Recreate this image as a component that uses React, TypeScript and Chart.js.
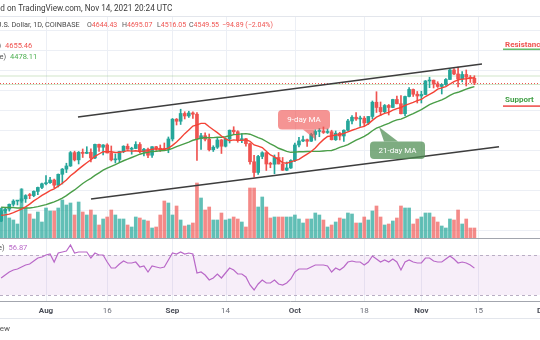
import React, { useEffect, useRef } from "react";
import { Chart, registerables } from "chart.js";
Chart.register(...registerables);

// ---- Data (ETH/USD daily, Coinbase, Jul 21 – Nov 14 2021; day index 0 = Jul 21) ----
const priorCloses = [2113, 2150, 2226, 2321, 2198, 2323, 2316, 2117, 2147, 2139, 2140, 2032, 1941, 1995, 1911, 1880, 1898, 1895, 1820, 1787];

const opens = [
  1787, 1994, 2026, 2124, 2188, 2190, 2233, 2299, 2298, 2382,
  2461, 2534, 2556, 2609, 2506, 2724, 2827, 2890, 3157, 3012,
  3164, 3142, 3165, 3050, 3322, 3265, 3310, 3150, 3012, 3020,
  3180, 3285, 3225, 3240, 3320, 3175, 3225, 3105, 3275, 3240,
  3225, 3220, 3430, 3825, 3785, 3940, 3890, 3950, 3925, 3435,
  3495, 3425, 3215, 3265, 3410, 3285, 3430, 3605, 3575, 3400,
  3435, 3335, 2975, 2760, 3080, 3155, 2930, 2925, 3060, 2930,
  2805, 2850, 3000, 3310, 3390, 3415, 3385, 3520, 3580, 3590,
  3560, 3575, 3415, 3545, 3490, 3605, 3790, 3865, 3830, 3845,
  3750, 3880, 4165, 4060, 3975, 4100, 4060, 4220, 4135, 3935,
  4280, 4420, 4325, 4290, 4320, 4590, 4605, 4530, 4480, 4520,
  4620, 4810, 4730, 4630, 4720, 4665, 4644.43,
];
const highs = [
  2044, 2043, 2130, 2215, 2194, 2435, 2316, 2340, 2393, 2468,
  2549, 2700, 2665, 2630, 2730, 2840, 2945, 3180, 3186, 3180,
  3230, 3275, 3235, 3330, 3330, 3320, 3335, 3290, 3130, 3185,
  3295, 3330, 3265, 3375, 3360, 3245, 3250, 3280, 3285, 3310,
  3350, 3470, 3840, 3840, 4025, 3975, 3985, 3975, 3960, 3545,
  3555, 3530, 3295, 3445, 3420, 3455, 3610, 3675, 3595, 3540,
  3445, 3350, 3105, 3105, 3175, 3160, 2965, 3110, 3160, 3060,
  2970, 3015, 3350, 3465, 3490, 3430, 3545, 3615, 3640, 3670,
  3630, 3605, 3590, 3565, 3615, 3825, 3900, 3960, 3890, 3880,
  3880, 4190, 4375, 4170, 4120, 4120, 4225, 4290, 4300, 4290,
  4460, 4430, 4380, 4385, 4600, 4665, 4610, 4575, 4530, 4640,
  4825, 4840, 4870, 4780, 4810, 4700, 4695.07,
];
const lows = [
  1776, 1954, 1987, 2086, 2110, 2160, 2161, 2236, 2275, 2315,
  2438, 2511, 2540, 2450, 2470, 2530, 2758, 2880, 2990, 2930,
  3060, 3135, 2970, 3035, 3180, 3110, 3150, 2990, 2950, 2965,
  3155, 3225, 3125, 3235, 3150, 3090, 3055, 3060, 3200, 3180,
  3205, 3155, 3390, 3710, 3720, 3830, 3860, 3840, 3000, 3220,
  3390, 3190, 3180, 3240, 3140, 3270, 3350, 3515, 3365, 3355,
  3285, 2925, 2665, 2720, 3035, 2800, 2855, 2735, 2930, 2800,
  2795, 2840, 2975, 3270, 3375, 3280, 3380, 3405, 3475, 3540,
  3540, 3410, 3400, 3410, 3380, 3590, 3730, 3800, 3680, 3690,
  3720, 3830, 3960, 3895, 3955, 3910, 4055, 4130, 3930, 3890,
  4270, 4280, 4150, 4150, 4315, 4455, 4450, 4460, 4330, 4500,
  4620, 4715, 4470, 4570, 4490, 4560, 4516.05,
];
const closes = [
  1994, 2026, 2124, 2188, 2190, 2233, 2299, 2298, 2382, 2461,
  2534, 2556, 2609, 2506, 2724, 2827, 2890, 3157, 3012, 3164,
  3142, 3165, 3050, 3322, 3265, 3310, 3150, 3012, 3020, 3180,
  3285, 3225, 3240, 3320, 3175, 3225, 3105, 3275, 3240, 3225,
  3220, 3430, 3825, 3785, 3940, 3890, 3950, 3925, 3435, 3495,
  3425, 3215, 3265, 3410, 3285, 3430, 3605, 3575, 3400, 3435,
  3335, 2975, 2760, 3080, 3155, 2930, 2925, 3060, 2930, 2805,
  2850, 3000, 3310, 3390, 3415, 3385, 3520, 3580, 3590, 3560,
  3575, 3415, 3545, 3490, 3605, 3790, 3865, 3830, 3845, 3750,
  3880, 4165, 4060, 3975, 4100, 4060, 4220, 4135, 3935, 4280,
  4420, 4325, 4290, 4320, 4590, 4605, 4530, 4480, 4520, 4620,
  4810, 4730, 4630, 4720, 4665, 4645, 4549.55,
];
// volume, thousand ETH
const volumes = [
  600, 560, 400, 360, 280, 980, 600, 480, 380, 520,
  320, 600, 540, 540, 600, 760, 660, 700, 460, 720,
  520, 460, 560, 460, 260, 380, 420, 560, 460, 380,
  380, 260, 220, 420, 400, 360, 340, 200, 220, 460,
  740, 700, 460, 640, 360, 240, 260, 300, 1100, 800,
  560, 620, 360, 360, 500, 360, 380, 420, 380, 320,
  220, 1000, 1000, 620, 820, 620, 400, 420, 420, 420,
  420, 420, 460, 380, 300, 380, 380, 500, 460, 360,
  220, 260, 320, 400, 380, 500, 480, 300, 300, 420,
  360, 540, 640, 420, 260, 280, 340, 400, 640, 600,
  600, 280, 380, 420, 500, 500, 420, 320, 240, 200,
  380, 360, 560, 280, 380, 200, 200,
];
const rsiValues = [
  47, 50, 53, 55, 56, 58, 60, 61, 64, 67,
  68, 70, 71, 63, 72, 73, 74, 80, 72, 73,
  73, 73, 67, 72, 70, 70, 63, 57, 57, 61,
  64, 62, 62, 63, 58, 59, 53, 59, 58, 57,
  58, 65, 72, 71, 73, 71, 72, 71, 52, 53,
  50, 45, 47, 51, 47, 52, 57, 55, 51, 51,
  48, 40, 35, 41, 45, 42, 42, 45, 41, 40,
  42, 46, 53, 56, 56, 56, 58, 60, 60, 60,
  59, 53, 57, 55, 58, 63, 64, 63, 63, 60,
  63, 69, 66, 63, 65, 63, 66, 63, 55, 63,
  65, 63, 62, 62, 67, 67, 64, 63, 63, 66,
  69, 66, 62, 63, 62, 60, 56.87,
];
const tickDays = [11, 26, 42, 55, 72, 89, 103, 117, 133];
const tickLabels = ["Aug", "16", "Sep", "14", "Oct", "18", "Nov", "15", "Dec"];
const tickIsMonth = [true, false, true, false, true, false, true, false, true];
const upperTrend = [{ x: 18.84, y: 3869.55 }, { x: 117.86, y: 4929.55 }];
const lowerTrend = [{ x: 22.03, y: 2229.55 }, { x: 122.03, y: 3275.55 }];
const levelLines = [4689.55, 4519.55];
const rsiBand = [70, 30];
const priceGrid = [1600, 2000, 2400, 2800, 3200, 3600, 4000, 4400, 4800, 5200, 5600];
const headerOHLC = [["O", "4644.43"], ["H", "4695.07"], ["L", "4516.05"], ["C", "4549.55"]];
const headerChange = "\u221294.89 (\u22122.04%)";
const ma9Legend = "4655.46";
const ma21Legend = "4478.11";
const rsiLegend = "56.87";

const GREEN = "#26a69a";
const RED = "#ef5350";
const FONT = "Roboto";

function sma(period: number) {
  const all = priorCloses.concat(closes);
  const off = priorCloses.length;
  return closes.map((_, i) => {
    let s = 0;
    for (let k = 0; k < period; k++) s += all[off + i - k];
    return { x: i, y: s / period };
  });
}

function roundRect(ctx: CanvasRenderingContext2D, x: number, y: number, w: number, h: number, r: number) {
  ctx.beginPath();
  ctx.moveTo(x + r, y);
  ctx.arcTo(x + w, y, x + w, y + h, r);
  ctx.arcTo(x + w, y + h, x, y + h, r);
  ctx.arcTo(x, y + h, x, y, r);
  ctx.arcTo(x, y, x + w, y, r);
  ctx.closePath();
}

const bgPlugin = {
  id: "tvBackground",
  beforeDatasetsDraw(chart: any) {
    const { ctx, chartArea, scales } = chart;
    const ys = scales.y, xs = scales.x, yr = scales.yRsi;
    ctx.save();
    ctx.fillStyle = "#e3e6ec";
    ctx.fillRect(0, 16, chart.width, 1);
    ctx.fillRect(0, 318, chart.width, 1);
    // vertical grid
    ctx.fillStyle = "#eceff5";
    tickDays.forEach((d) => {
      const x = Math.round(xs.getPixelForValue(d));
      ctx.fillRect(x, 17, 1, chartArea.bottom - 17);
    });
    // price grid
    priceGrid.forEach((p) => {
      const y = Math.round(ys.getPixelForValue(p));
      if (y > 17 && y < 237) ctx.fillRect(0, y, chart.width, 1);
    });
    // RSI band
    const y70 = yr.getPixelForValue(rsiBand[0]);
    const y30 = yr.getPixelForValue(rsiBand[1]);
    ctx.fillStyle = "rgba(186, 104, 200, 0.11)";
    ctx.fillRect(chartArea.left, y70, chartArea.right - chartArea.left, y30 - y70);
    ctx.strokeStyle = "#b9aec4";
    ctx.lineWidth = 1;
    ctx.setLineDash([3, 3]);
    [y70, y30].forEach((y) => {
      ctx.beginPath();
      ctx.moveTo(chartArea.left, Math.round(y) + 0.5);
      ctx.lineTo(chartArea.right, Math.round(y) + 0.5);
      ctx.stroke();
    });
    ctx.setLineDash([]);
    // horizontal level lines
    ctx.strokeStyle = "rgba(120, 180, 100, 0.35)";
    ctx.lineWidth = 1.2;
    levelLines.forEach((p) => {
      const y = ys.getPixelForValue(p);
      ctx.beginPath();
      ctx.moveTo(chartArea.left, y);
      ctx.lineTo(chartArea.right, y);
      ctx.stroke();
    });
    // last price dotted line
    const yp = Math.round(ys.getPixelForValue(closes[closes.length - 1])) + 0.5;
    ctx.strokeStyle = RED;
    ctx.lineWidth = 1;
    ctx.setLineDash([1, 2]);
    ctx.beginPath();
    ctx.moveTo(chartArea.left, yp);
    ctx.lineTo(chartArea.right, yp);
    ctx.stroke();
    ctx.setLineDash([]);
    ctx.restore();
  },
  afterDatasetsDraw(chart: any) {
    const { ctx, scales } = chart;
    ctx.save();
    // pane separator
    const ySep = Math.round(scales.yVol.getPixelForValue(0));
    ctx.fillStyle = "#a3a6ae";
    ctx.fillRect(0, ySep, chart.width, 1);

    ctx.textBaseline = "middle";
    // title line
    ctx.font = `8.2px ${FONT}`;
    ctx.fillStyle = "#3a3a3a";
    const wPub = ctx.measureText("Publishe").width;
    ctx.fillText("Published on TradingView.com, Nov 14, 2021 20:24 UTC", -wPub + 0.3, 9);
    // symbol line
    ctx.font = `7.3px ${FONT}`;
    ctx.fillStyle = "#4a4a4a";
    const wSym = ctx.measureText("Ethereum / U").width;
    ctx.fillText("Ethereum / U.S. Dollar, 1D, COINBASE", 1.5 - wSym, 25);
    ctx.font = `7px ${FONT}`;
    const ohlcX = [87, 122, 157, 189];
    headerOHLC.forEach(([k, v], i) => {
      ctx.fillStyle = "#555";
      ctx.fillText(k, ohlcX[i], 25);
      const w = ctx.measureText(k).width;
      ctx.fillStyle = RED;
      ctx.fillText(v, ohlcX[i] + w, 25);
    });
    ctx.fillStyle = RED;
    ctx.fillText(headerChange, 222, 25);

    // MA legend
    ctx.font = `7.5px ${FONT}`;
    ctx.textAlign = "right";
    ctx.fillStyle = "#555";
    ctx.fillText("MA (9, close)", 1, 46);
    ctx.fillText("MA (21, close)", 6, 57.5);
    ctx.fillText("RSI (14, close)", 4.5, 248);
    ctx.textAlign = "left";
    ctx.fillStyle = RED;
    ctx.fillText(ma9Legend, 5, 46);
    ctx.fillStyle = "#4caf50";
    ctx.fillText(ma21Legend, 10, 57.5);
    ctx.fillStyle = "#b968c8";
    ctx.fillText(rsiLegend, 8.5, 248);

    // footer
    ctx.font = `8px ${FONT}`;
    ctx.fillStyle = "#555";
    ctx.textAlign = "right";
    ctx.fillText("TradingView", 10, 329);
    ctx.textAlign = "left";

    // Resistance / Support annotations
    ctx.font = `bold 8px ${FONT}`;
    ctx.fillStyle = RED;
    ctx.fillText("Resistance", 505, 44.5);
    ctx.fillStyle = "#66bb6a";
    ctx.fillRect(503, 48.5, 45, 1.6);
    ctx.fillStyle = "#43a047";
    ctx.fillText("Support", 505, 100);
    ctx.fillStyle = RED;
    ctx.fillRect(503, 105.3, 45, 1.6);

    // 9-day MA callout
    ctx.fillStyle = "rgba(239, 83, 80, 0.62)";
    roundRect(ctx, 278, 110, 52, 19.5, 4);
    ctx.fill();
    ctx.beginPath();
    ctx.moveTo(303, 129.5);
    ctx.lineTo(316, 140);
    ctx.lineTo(314, 129.5);
    ctx.closePath();
    ctx.fill();
    ctx.fillStyle = "#ffffff";
    ctx.font = `8px ${FONT}`;
    ctx.textAlign = "center";
    ctx.fillText("9-day MA", 304, 120);

    // 21-day MA callout
    ctx.fillStyle = "rgba(76, 140, 80, 0.72)";
    roundRect(ctx, 370, 141.5, 55, 17.5, 4);
    ctx.fill();
    ctx.beginPath();
    ctx.moveTo(384, 141.5);
    ctx.lineTo(379, 127);
    ctx.lineTo(398, 141.5);
    ctx.closePath();
    ctx.fill();
    ctx.fillStyle = "#ffffff";
    ctx.fillText("21-day MA", 397.5, 150.5);
    ctx.restore();
  },
};

export default function App() {
  const ref = useRef<HTMLCanvasElement | null>(null);
  useEffect(() => {
    document.body.style.margin = "0";
    const canvas = ref.current;
    if (!canvas) return;
    const up = (i: number) => closes[i] >= opens[i];
    const candleColors = closes.map((_, i) => (up(i) ? GREEN : RED));
    const volColors = closes.map((_, i) => (up(i) ? "rgba(38,166,154,0.72)" : "rgba(239,83,80,0.68)"));
    const xMin = -0.275;
    const xMax = xMin + 580 / 4.08;
    const chart = new Chart(canvas, {
      type: "bar",
      data: {
        datasets: [
          {
            type: "bar",
            label: "Volume",
            data: volumes.map((v, i) => ({ x: i, y: v })) as any,
            backgroundColor: volColors,
            barThickness: 3,
            grouped: false,
            yAxisID: "yVol",
            order: 10,
          } as any,
          {
            type: "bar",
            label: "Wick",
            data: closes.map((_, i) => ({ x: i, y: [lows[i], highs[i]] })) as any,
            backgroundColor: candleColors,
            barThickness: 1,
            grouped: false,
            yAxisID: "y",
            order: 8,
          } as any,
          {
            type: "bar",
            label: "Body",
            data: closes.map((c, i) => ({ x: i, y: [Math.min(opens[i], c), Math.max(opens[i], c)] })) as any,
            backgroundColor: candleColors,
            barThickness: 3,
            minBarLength: 1,
            grouped: false,
            yAxisID: "y",
            order: 7,
          } as any,
          {
            type: "line",
            label: "MA 21",
            data: sma(21) as any,
            borderColor: "#4a9e48",
            borderWidth: 1.4,
            pointRadius: 0,
            tension: 0,
            yAxisID: "y",
            order: 6,
          } as any,
          {
            type: "line",
            label: "MA 9",
            data: sma(9) as any,
            borderColor: "#f44336",
            borderWidth: 1.4,
            pointRadius: 0,
            tension: 0,
            yAxisID: "y",
            order: 5,
          } as any,
          {
            type: "line",
            label: "Upper channel",
            data: upperTrend as any,
            borderColor: "#3d3d3d",
            borderWidth: 1.6,
            pointRadius: 0,
            yAxisID: "y",
            order: 4,
          } as any,
          {
            type: "line",
            label: "Lower channel",
            data: lowerTrend as any,
            borderColor: "#3d3d3d",
            borderWidth: 1.6,
            pointRadius: 0,
            yAxisID: "y",
            order: 4,
          } as any,
          {
            type: "line",
            label: "RSI",
            data: rsiValues.map((v, i) => ({ x: i, y: v })) as any,
            borderColor: "#b968c8",
            borderWidth: 1.2,
            pointRadius: 0,
            tension: 0,
            yAxisID: "yRsi",
            order: 3,
          } as any,
        ],
      },
      options: {
        responsive: false,
        maintainAspectRatio: false,
        animation: false,
        devicePixelRatio: 1,
        events: [],
        layout: { padding: 0 },
        plugins: { legend: { display: false }, tooltip: { enabled: false } },
        scales: {
          x: {
            type: "linear",
            min: xMin,
            max: xMax,
            offset: false,
            bounds: "data",
            grid: { display: false, drawTicks: false, offset: false },
            border: { display: true, color: "#a3a6ae", width: 1 },
            afterBuildTicks: (s: any) => {
              s.ticks = tickDays.map((v) => ({ value: v }));
            },
            afterFit: (s: any) => {
              s.height = 39;
            },
            ticks: {
              autoSkip: false,
              maxRotation: 0,
              minRotation: 0,
              padding: 5,
              color: (c: any) => (tickIsMonth[c.index] ? "#4a4d57" : "#6b6e78"),
              font: (c: any) => ({ family: FONT, size: 8, weight: tickIsMonth[c.index] ? "bold" : "normal" }),
              callback: (_v: any, idx: number) => tickLabels[idx],
            },
          } as any,
          y: { type: "linear", display: false, min: 189.55, max: 6209.55 },
          yVol: { type: "linear", display: false, min: -1260, max: 4760 },
          yRsi: { type: "linear", display: false, min: 24, max: 325 },
        },
      } as any,
      plugins: [bgPlugin],
    });
    return () => chart.destroy();
  }, []);
  return (
    <div style={{ position: "fixed", left: 0, top: 0, width: 540, height: 340, overflow: "hidden", background: "#fff" }}>
      <canvas ref={ref} width={580} height={340} style={{ display: "block", width: 580, height: 340 }} />
    </div>
  );
}
